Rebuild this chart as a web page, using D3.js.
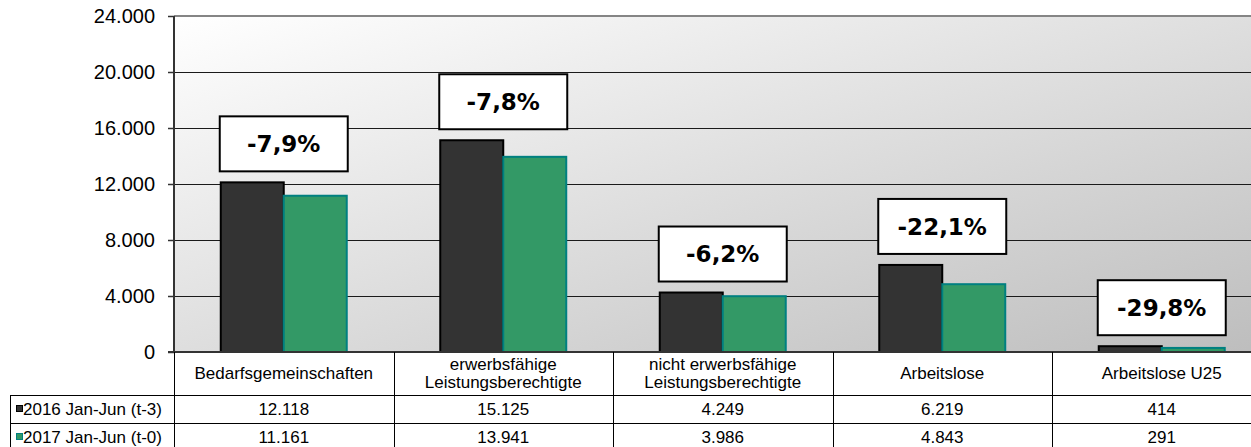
<!DOCTYPE html>
<html lang="de">
<head>
<meta charset="UTF-8">
<title>SGB II Kennzahlen</title>
<script src="https://cdn.jsdelivr.net/npm/d3@7/dist/d3.min.js"></script>
<style>
  body { margin: 0; background: #fff; overflow: hidden; }
  svg { display: block; font-family: "Liberation Sans", Arial, sans-serif; }
</style>
</head>
<body>
<div id="chart"></div>
<script>
// data
const categories = [
  "Bedarfsgemeinschaften",
  "erwerbsfähige\nLeistungsberechtigte",
  "nicht erwerbsfähige\nLeistungsberechtigte",
  "Arbeitslose",
  "Arbeitslose U25"
];
const seriesNames = ["2016 Jan-Jun (t-3)", "2017 Jan-Jun (t-0)"];
const values2016 = [12118, 15125, 4249, 6219, 414];
const values2017 = [11161, 13941, 3986, 4843, 291];
const changeLabels = ["-7,9%", "-7,8%", "-6,2%", "-22,1%", "-29,8%"];
const yTicks = [0, 4000, 8000, 12000, 16000, 20000, 24000];

const width = 1251, height = 447;
const plotLeft = 174, plotTop = 16, plotBottom = 352;
const step = 219.5;
const plotRight = plotLeft + step * categories.length;
const fills = ["#333333", "#339966"];
const strokes = ["#000000", "#008080"];

const de = d3.formatLocale({decimal: ",", thousands: ".", grouping: [3], currency: ["", " €"]});
const fmt = de.format(",d");

const svg = d3.select("#chart").append("svg")
  .attr("width", width)
  .attr("height", height);

const defs = svg.append("defs");
const grad = defs.append("linearGradient")
  .attr("id", "bg")
  .attr("x1", 0).attr("y1", 0).attr("x2", 1).attr("y2", 1);
grad.append("stop").attr("offset", 0).attr("stop-color", "#ffffff");
grad.append("stop").attr("offset", 1).attr("stop-color", "#bdbdbd");

const x = d3.scaleBand()
  .domain(categories)
  .range([plotLeft, plotRight])
  .paddingInner(0.426)
  .paddingOuter(0.213);

const xs = d3.scaleBand()
  .domain(seriesNames)
  .range([0, x.bandwidth()]);

const y = d3.scaleLinear()
  .domain([0, 24000])
  .range([plotBottom, plotTop]);

// plot background
svg.append("rect")
  .attr("x", plotLeft).attr("y", plotTop)
  .attr("width", plotRight - plotLeft).attr("height", plotBottom - plotTop)
  .attr("fill", "url(#bg)");

// gridlines
svg.append("g")
  .selectAll("line")
  .data(yTicks.filter(d => d > 0 && d < 24000))
  .enter()
  .append("line")
  .attr("x1", plotLeft).attr("x2", plotRight)
  .attr("y1", d => Math.round(y(d)) + 0.5)
  .attr("y2", d => Math.round(y(d)) + 0.5)
  .attr("stroke", "#1a1a1a")
  .attr("stroke-width", 1);

// top border
svg.append("line")
  .attr("x1", plotLeft).attr("x2", plotRight)
  .attr("y1", plotTop).attr("y2", plotTop)
  .attr("stroke", "#858585")
  .attr("stroke-width", 2);

// y axis
const yAxis = d3.axisLeft(y)
  .tickValues(yTicks)
  .tickSize(6)
  .tickPadding(13)
  .tickFormat(d => fmt(d));

const gy = svg.append("g")
  .attr("transform", `translate(${plotLeft},0)`)
  .call(yAxis);
gy.select(".domain").remove();
gy.selectAll(".tick line").attr("stroke", "#333").attr("stroke-width", 1.5);
gy.selectAll(".tick text")
  .attr("font-size", 20)
  .attr("fill", "#000")
  .attr("font-family", "'Liberation Sans', Arial, sans-serif");

// bars
const groups = svg.append("g")
  .selectAll("g")
  .data(categories.map((c, i) => ({c, vals: [values2016[i], values2017[i]]})))
  .enter()
  .append("g")
  .attr("transform", d => `translate(${x(d.c)},0)`);

groups.selectAll("rect")
  .data(d => d.vals.map((v, j) => ({v, s: seriesNames[j], j})))
  .enter()
  .append("rect")
  .attr("x", d => xs(d.s))
  .attr("y", d => y(d.v))
  .attr("width", xs.bandwidth())
  .attr("height", d => y(0) - y(d.v))
  .attr("fill", d => fills[d.j])
  .attr("stroke", d => strokes[d.j])
  .attr("stroke-width", 2);

// change labels
const boxW = 128, boxH = 55, gap = 11;
const lab = svg.append("g")
  .selectAll("g")
  .data(categories.map((c, i) => ({c, hi: Math.max(values2016[i], values2017[i]), t: changeLabels[i]})))
  .enter()
  .append("g")
  .attr("transform", d => `translate(${x(d.c) + x.bandwidth() / 2},${y(d.hi) - gap - boxH / 2})`);

lab.append("rect")
  .attr("x", -boxW / 2).attr("y", -boxH / 2)
  .attr("width", boxW).attr("height", boxH)
  .attr("fill", "#fff")
  .attr("stroke", "#000")
  .attr("stroke-width", 2);

lab.append("text")
  .attr("text-anchor", "middle")
  .attr("dy", "0.36em")
  .attr("font-family", "'DejaVu Sans', Verdana, sans-serif")
  .attr("font-weight", "bold")
  .attr("font-size", 23)
  .text(d => d.t);

// x axis line
svg.append("line")
  .attr("x1", plotLeft - 6).attr("x2", plotRight)
  .attr("y1", plotBottom).attr("y2", plotBottom)
  .attr("stroke", "#333")
  .attr("stroke-width", 2);

// y axis line
svg.append("line")
  .attr("x1", plotLeft).attr("x2", plotLeft)
  .attr("y1", plotTop).attr("y2", plotBottom)
  .attr("stroke", "#333")
  .attr("stroke-width", 2);

// data table
const tableLeft = 10;
const rowTop = [395, 423];
const rowH = 28;
const tableBottom = rowTop[1] + rowH;
const table = svg.append("g");

table.selectAll(".hline")
  .data(rowTop)
  .enter()
  .append("line")
  .attr("x1", tableLeft).attr("x2", plotRight)
  .attr("y1", d => d + 0.5).attr("y2", d => d + 0.5)
  .attr("stroke", "#000");

table.append("line")
  .attr("x1", tableLeft + 0.5).attr("x2", tableLeft + 0.5)
  .attr("y1", rowTop[0]).attr("y2", tableBottom)
  .attr("stroke", "#000");

table.selectAll(".vline")
  .data(categories)
  .enter()
  .append("line")
  .attr("x1", d => Math.round(x(d) - x.step() * 0.213) + 0.5)
  .attr("x2", d => Math.round(x(d) - x.step() * 0.213) + 0.5)
  .attr("y1", plotBottom).attr("y2", tableBottom)
  .attr("stroke", "#000");

// category header
table.selectAll(".cat")
  .data(categories)
  .enter()
  .append("text")
  .attr("text-anchor", "middle")
  .attr("font-size", 17)
  .attr("x", d => x(d) + x.bandwidth() / 2)
  .each(function(d) {
    const lines = d.split("\n");
    const mid = (plotBottom + rowTop[0]) / 2;
    const lh = 18;
    d3.select(this).selectAll("tspan")
      .data(lines)
      .enter()
      .append("tspan")
      .attr("x", x(d) + x.bandwidth() / 2)
      .attr("y", (l, k) => mid + (k - (lines.length - 1) / 2) * lh)
      .attr("dy", "0.35em")
      .text(l => l);
  });

// rows
[values2016, values2017].forEach((vals, j) => {
  const cy = rowTop[j] + rowH / 2;
  table.append("rect")
    .attr("x", 16.5).attr("y", cy - 3.5)
    .attr("width", 6).attr("height", 6)
    .attr("fill", fills[j])
    .attr("stroke", strokes[j])
    .attr("stroke-width", 1);
  table.append("text")
    .attr("x", 23).attr("y", cy)
    .attr("dy", "0.35em")
    .attr("font-size", 17)
    .text(seriesNames[j]);
  table.selectAll(".v" + j)
    .data(vals)
    .enter()
    .append("text")
    .attr("text-anchor", "middle")
    .attr("font-size", 17)
    .attr("x", (v, i) => x(categories[i]) + x.bandwidth() / 2)
    .attr("y", cy)
    .attr("dy", "0.35em")
    .text(v => fmt(v));
});
</script>
</body>
</html>
